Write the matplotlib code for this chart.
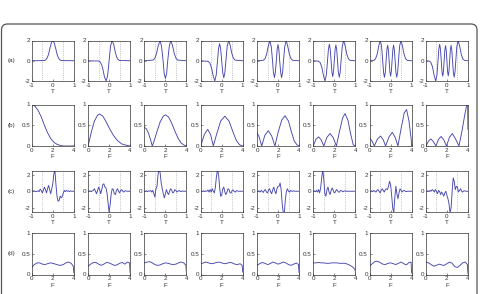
import matplotlib
matplotlib.use("Agg")
import matplotlib.pyplot as plt
import numpy as np
from matplotlib.patches import FancyBboxPatch

plt.rcParams['font.family'] = ['Liberation Sans', 'DejaVu Sans']
plt.rcParams['axes.unicode_minus'] = False

# ---- row (a): time-domain basis functions, T in [-1, 1] ----
a_t = [
    [-1, -0.40, -0.34, -0.27, -0.20, -0.14, -0.07, 0, 0.07, 0.14, 0.20, 0.27, 0.34, 0.40, 1],
    [-1, -0.50, -0.43, -0.36, -0.29, -0.22, -0.14, -0.07, 0, 0.07, 0.14, 0.22, 0.29, 0.36, 0.43, 0.50, 1],
    [-1, -0.58, -0.50, -0.42, -0.34, -0.25, -0.18, -0.11, -0.06, 0, 0.06, 0.11, 0.18, 0.25, 0.34, 0.42, 0.50, 0.58, 1],
    [-1, -0.64, -0.56, -0.48, -0.40, -0.33, -0.26, -0.20, -0.15, -0.10, -0.05, 0,
     0.05, 0.10, 0.15, 0.20, 0.26, 0.33, 0.40, 0.48, 0.56, 0.64, 1],
    [-1, -0.70, -0.62, -0.54, -0.46, -0.39, -0.32, -0.26, -0.22, -0.17, -0.13, -0.08, -0.04, 0,
     0.04, 0.08, 0.13, 0.17, 0.22, 0.26, 0.32, 0.39, 0.46, 0.54, 0.62, 0.70, 1],
    [-1, -0.752, -0.672, -0.592, -0.512, -0.44, -0.376, -0.323, -0.28, -0.235, -0.192, -0.153, -0.115, -0.075, -0.038, 0,
     0.038, 0.075, 0.115, 0.153, 0.192, 0.235, 0.28, 0.323, 0.376, 0.44, 0.512, 0.592, 0.672, 0.752, 1],
    [-1, -0.80, -0.72, -0.64, -0.56, -0.491, -0.432, -0.376, -0.334, -0.293, -0.253, -0.214, -0.178, -0.141, -0.106, -0.070, -0.035, 0,
     0.035, 0.070, 0.106, 0.141, 0.178, 0.214, 0.253, 0.293, 0.334, 0.376, 0.432, 0.491, 0.56, 0.64, 0.72, 0.80, 1],
    [-1, -0.848, -0.768, -0.688, -0.608, -0.533, -0.472, -0.424, -0.384, -0.344, -0.306, -0.268, -0.234, -0.198, -0.165, -0.131, -0.098, -0.064, -0.032, 0,
     0.032, 0.064, 0.098, 0.131, 0.165, 0.198, 0.234, 0.268, 0.306, 0.344, 0.384, 0.424, 0.472, 0.533, 0.608, 0.688, 0.768, 0.848, 1],
]
a_v = [
    [0, 0.02, 0.09, 0.27, 0.65, 1.21, 1.76, 2.0, 1.76, 1.21, 0.65, 0.27, 0.09, 0.02, 0],
    [0, -0.03, -0.11, -0.36, -0.89, -1.61, -2.0, -1.46, 0, 1.46, 2.0, 1.61, 0.89, 0.36, 0.11, 0.03, 0],
    [0, 0.07, 0.26, 0.74, 1.50, 2.0, 1.35, 0, -1.24, -1.75, -1.24, 0, 1.35, 2.0, 1.50, 0.74, 0.26, 0.07, 0],
    [0, -0.06, -0.24, -0.74, -1.54, -2.0, -1.39, 0, 1.19, 1.69, 1.19, 0,
     -1.19, -1.69, -1.19, 0, 1.39, 2.0, 1.54, 0.74, 0.24, 0.06, 0],
    [0, 0.04, 0.20, 0.66, 1.47, 2.0, 1.37, 0, -1.14, -1.66, -1.18, 0, 1.14, 1.60,
     1.14, 0, -1.18, -1.66, -1.14, 0, 1.37, 2.0, 1.47, 0.66, 0.20, 0.04, 0],
    [0, -0.04, -0.19, -0.66, -1.51, -2.0, -1.35, 0, 1.14, 1.63, 1.11, 0, -1.09, -1.56, -1.11, 0,
     1.11, 1.56, 1.09, 0, -1.11, -1.63, -1.14, 0, 1.35, 2.0, 1.51, 0.66, 0.19, 0.04, 0],
    [0, 0.03, 0.18, 0.64, 1.51, 2.0, 1.46, 0, -1.16, -1.63, -1.16, 0, 1.09, 1.54, 1.09, 0, -1.07, -1.52,
     -1.07, 0, 1.09, 1.54, 1.09, 0, -1.16, -1.63, -1.16, 0, 1.46, 2.0, 1.51, 0.64, 0.18, 0.03, 0],
    [0, -0.03, -0.15, -0.58, -1.45, -2.0, -1.40, 0, 1.14, 1.62, 1.14, 0, -1.08, -1.52, -1.08, 0, 1.06, 1.49, 1.06, 0,
     -1.06, -1.49, -1.06, 0, 1.08, 1.52, 1.08, 0, -1.14, -1.62, -1.14, 0, 1.40, 2.0, 1.45, 0.58, 0.15, 0.03, 0],
]

# ---- row (b): magnitude spectra, F in [0, 4] ----
b_f = [
    [0, 0.3, 0.6, 0.9, 1.2, 1.5, 1.8, 2.1, 2.4, 2.7, 3.0, 4.0],
    [0, 0.3, 0.6, 0.9, 1.1, 1.4, 1.7, 2.0, 2.4, 2.8, 3.2, 3.6, 4.0],
    [0, 0.2, 0.4, 0.6, 0.75, 0.9, 1.2, 1.5, 1.8, 2.0, 2.3, 2.6, 2.9, 3.2, 3.5, 3.8, 4.0],
    [0, 0.35, 0.67, 0.95, 1.2, 1.5, 1.9, 2.3, 2.7, 3.1, 3.4, 3.7, 4.0],
    [0, 0.2, 0.45, 0.75, 1.08, 1.4, 1.71, 2.0, 2.35, 2.67, 3.0, 3.3, 3.55, 3.8, 4.0],
    [0, 0.25, 0.5, 0.75, 1.0, 1.3, 1.6, 1.9, 2.2, 2.5, 2.8, 3.02, 3.3, 3.55, 3.8, 4.0],
    [0, 0.25, 0.45, 0.75, 1.05, 1.3, 1.52, 1.85, 2.16, 2.45, 2.7, 3.0, 3.3, 3.52, 3.75, 3.97, 4.0],
    [0, 0.25, 0.47, 0.7, 0.96, 1.2, 1.45, 1.7, 1.96, 2.25, 2.52, 2.8, 3.15, 3.45, 3.7, 3.9, 3.98, 4.0],
]
b_m = [
    [1.0, 0.96, 0.86, 0.7, 0.5, 0.32, 0.18, 0.09, 0.04, 0.015, 0.0, 0.0],
    [0, 0.33, 0.60, 0.74, 0.77, 0.72, 0.59, 0.44, 0.26, 0.13, 0.05, 0.02, 0.0],
    [0.45, 0.41, 0.3, 0.14, 0.0, 0.1, 0.35, 0.58, 0.72, 0.75, 0.7, 0.55, 0.36, 0.19, 0.07, 0.02, 0.0],
    [0, 0.28, 0.40, 0.27, 0, 0.27, 0.6, 0.72, 0.6, 0.32, 0.13, 0.03, 0],
    [0.32, 0.22, 0, 0.26, 0.37, 0.24, 0, 0.32, 0.62, 0.73, 0.6, 0.32, 0.12, 0.03, 0],
    [0, 0.16, 0.22, 0.15, 0, 0.21, 0.3, 0.2, 0, 0.36, 0.68, 0.78, 0.62, 0.3, 0.03, 0],
    [0.2, 0.11, 0, 0.17, 0.24, 0.15, 0, 0.22, 0.33, 0.2, 0, 0.42, 0.8, 0.88, 0.6, 0.15, 0.0],
    [0, 0.12, 0.17, 0.11, 0, 0.16, 0.23, 0.15, 0, 0.21, 0.3, 0.18, 0, 0.38, 0.75, 1.0, 1.0, 0.4],
]

# ---- row (c): reconstructed signals, sampled every 0.05 on [-1, 1] ----
c_t = np.linspace(-1, 1, 41)
c_v = [
    [0, 0, 0.05, 0, -0.05, 0, 0.05, -0.05, 0.25, 0.1, -0.2, 0.1, 0.5, 0.2, -0.2, 0.3, 0.7, 0.2, -0.3, 0.3,
     0.9, 2.1, 2.5, 0.8, -0.6, -1.2, -1.1, -0.6, -0.8, -0.6, -0.2, 0.1, -0.05, 0.1, 0, 0.05, -0.05, 0.05, 0, 0, 0],
    [0, 0, 0.05, -0.05, 0.05, 0.1, 0.3, 0.0, -0.3, 0.1, 0.5, 0.2, -0.3, 0.2, 0.8, 0.9, 0.5, 0.4, -0.2, -1.4,
     -2.5, -1.6, -0.3, 0.3, 0.2, -0.3, -0.4, 0.1, 0.3, 0.0, -0.2, 0.1, 0.2, 0.0, -0.1, 0.05, 0.05, 0, 0, 0, 0],
    [0, 0, 0.05, -0.05, 0.05, 0.0, 0.1, -0.1, 0.1, -0.3, -0.7, 0.3, 0.6, 2.0, 2.7, 2.2, 1.0, 0.3, -0.3, -0.8,
     -0.3, 0.2, -0.2, -0.4, 0.0, 0.3, 0.1, -0.2, -0.1, 0.2, 0.1, -0.1, 0.0, 0.1, 0.0, -0.05, 0.05, 0, 0, 0, 0],
    [0, 0, 0, 0.05, -0.05, 0.05, 0.0, 0.15, -0.1, 0.2, -0.1, 0.3, 0.0, -0.2, 0.5, 1.8, 2.6, 2.0, 0.5, -0.6,
     -0.5, 0.3, 0.5, -0.1, -0.4, -0.1, 0.3, 0.2, -0.2, -0.2, 0.1, 0.15, -0.05, -0.1, 0.05, 0.05, 0, 0, 0, 0, 0],
    [0, 0, 0.05, -0.1, 0.1, 0.0, -0.15, 0.1, 0.2, -0.1, -0.2, 0.15, 0.3, -0.1, -0.3, 0.2, 0.5, 0.0, -0.3, 0.3,
     0.6, 0.6, 1.0, 0.2, -1.5, -2.6, -2.6, -1.0, 0.0, 0.3, 0.0, -0.1, 0.1, 0.0, 0.0, 0.05, 0, 0, 0, 0, 0],
    [0, 0.05, -0.05, 0.1, -0.1, 0.2, -0.2, 0.4, 1.6, 2.6, 1.4, -0.3, -0.6, 0.2, 0.5, -0.1, -0.4, 0.1, 0.4, 0.1,
     -0.2, -0.1, 0.2, 0.1, -0.1, -0.1, 0.1, 0.05, -0.05, 0.0, 0.05, 0, 0, 0, 0, 0, 0, 0, 0, 0, 0],
    [0, 0, 0.05, -0.05, 0.1, 0.0, -0.1, 0.1, 0.2, 0.0, -0.2, 0.1, 0.3, 0.1, -0.1, 0.2, 0.3, 0.2, 0.6, 1.2,
     0.8, -0.5, -2.0, -2.6, -0.8, 0.6, -0.3, -0.9, -0.2, 0.3, 0.1, -0.1, 0.05, 0.1, 0.0, -0.05, 0, 0, 0, 0, 0],
    [0, 0, 0.05, -0.05, 0.1, 0.0, 0.2, 0.1, -0.1, 0.2, 0.0, -0.3, 0.1, 0.0, -0.4, -0.1, -0.3, -0.6, -0.2, 0.0,
     -0.5, -0.9, -1.5, -2.6, -2.0, 0.0, 1.6, 1.2, 0.2, 0.6, 0.5, -0.1, 0.1, 0.3, 0.0, -0.1, 0.05, 0.05, 0, 0, 0],
]

# ---- row (d): spectra of the reconstructed signals ----
d_f = [0, 0.25, 0.5, 0.75, 1.0, 1.25, 1.5, 1.75, 2.0, 2.25, 2.5, 2.75, 3.0, 3.25, 3.5, 3.75, 3.95, 4.0]
d_m = [
    [0.18, 0.24, 0.28, 0.28, 0.25, 0.24, 0.26, 0.28, 0.27, 0.25, 0.23, 0.22, 0.24, 0.28, 0.30, 0.27, 0.2, 0.04],
    [0.2, 0.25, 0.29, 0.29, 0.25, 0.22, 0.25, 0.29, 0.28, 0.25, 0.22, 0.23, 0.27, 0.29, 0.25, 0.3, 0.28, 0.04],
    [0.28, 0.3, 0.31, 0.28, 0.24, 0.22, 0.23, 0.26, 0.28, 0.27, 0.25, 0.24, 0.25, 0.28, 0.3, 0.28, 0.22, 0.05],
    [0.25, 0.28, 0.3, 0.28, 0.26, 0.27, 0.29, 0.3, 0.28, 0.26, 0.27, 0.29, 0.28, 0.25, 0.24, 0.26, 0.22, 0.06],
    [0.22, 0.26, 0.29, 0.27, 0.24, 0.26, 0.3, 0.28, 0.25, 0.27, 0.3, 0.28, 0.24, 0.22, 0.25, 0.28, 0.24, 0.05],
    [0.28, 0.28, 0.29, 0.28, 0.28, 0.27, 0.27, 0.28, 0.28, 0.28, 0.27, 0.27, 0.27, 0.25, 0.22, 0.18, 0.13, 0.08],
    [0.2, 0.26, 0.31, 0.32, 0.29, 0.25, 0.24, 0.27, 0.28, 0.26, 0.24, 0.27, 0.3, 0.26, 0.23, 0.29, 0.3, 0.04],
    [0.3, 0.28, 0.24, 0.2, 0.22, 0.25, 0.23, 0.22, 0.26, 0.3, 0.27, 0.19, 0.17, 0.22, 0.28, 0.3, 0.24, 0.03],
]

row_names = ['(a)', '(b)', '(c)', '(d)']
time_ticks = [-1, 0, 1]
freq_ticks = [0, 2, 4]

W, H = 480, 294
LINE = '#4646ae'
INK = '#333333'

fig = plt.figure(figsize=(W / 100, H / 100), dpi=100)

# rounded frame around the whole figure
frame = FancyBboxPatch((0.015, -0.1), 4.755, 2.80,
                       boxstyle='round,pad=0,rounding_size=0.06',
                       transform=fig.dpi_scale_trans, fill=False,
                       ec='#555555', lw=0.9)
fig.patches.append(frame)

row_tops = [40.5, 104.5, 170.5, 233.0]
row_h = [40.5, 41.5, 41.5, 41.5]


def make_axis(row, col):
    left = 31.8 + 56.3 * col
    top, h = row_tops[row], row_h[row]
    ax = fig.add_axes([left / W, 1 - (top + h) / H, 42 / W, h / H])
    for s in ax.spines.values():
        s.set_linewidth(0.5)
        s.set_color(INK)
    ax.tick_params(direction='in', length=1.5, width=0.4, labelsize=4.5,
                   pad=1.2, colors=INK)
    return ax


def time_panel(ax, t, v, ylim):
    ax.plot(t, v, color=LINE, lw=0.65)
    for x in (-0.5, 0.5):
        ax.axvline(x, color='#9a9a9a', ls=':', lw=0.5, zorder=0)
    ax.set_xlim(-1, 1)
    ax.set_ylim(*ylim)
    ax.set_xticks(time_ticks)
    ax.set_xticklabels(['-1', '0', '1'])
    ax.set_yticks([-2, 0, 2])
    ax.set_yticklabels(['-2', '0', '2'])
    ax.set_xlabel('T', fontsize=4.5, labelpad=1, color=INK)


def freq_panel(ax, f, m):
    ax.plot(f, m, color=LINE, lw=0.65)
    ax.set_xlim(0, 4)
    ax.set_ylim(0, 1)
    ax.set_xticks(freq_ticks)
    ax.set_xticklabels(['0', '2', '4'])
    ax.set_yticks([0, 0.5, 1])
    ax.set_yticklabels(['0', '0.5', '1'])
    ax.set_xlabel('F', fontsize=4.5, labelpad=1, color=INK)


for k in range(8):
    time_panel(make_axis(0, k), a_t[k], a_v[k], (-2, 2))
    freq_panel(make_axis(1, k), b_f[k], b_m[k])
    time_panel(make_axis(2, k), c_t, c_v[k], (-2.5, 2.5))
    freq_panel(make_axis(3, k), d_f, d_m[k])

for r, name in enumerate(row_names):
    yc = row_tops[r] + row_h[r] / 2
    fig.text(11 / W, 1 - yc / H, name, fontsize=4.5, ha='center',
             va='center', color=INK)

fig.savefig('out.png', dpi=100)
